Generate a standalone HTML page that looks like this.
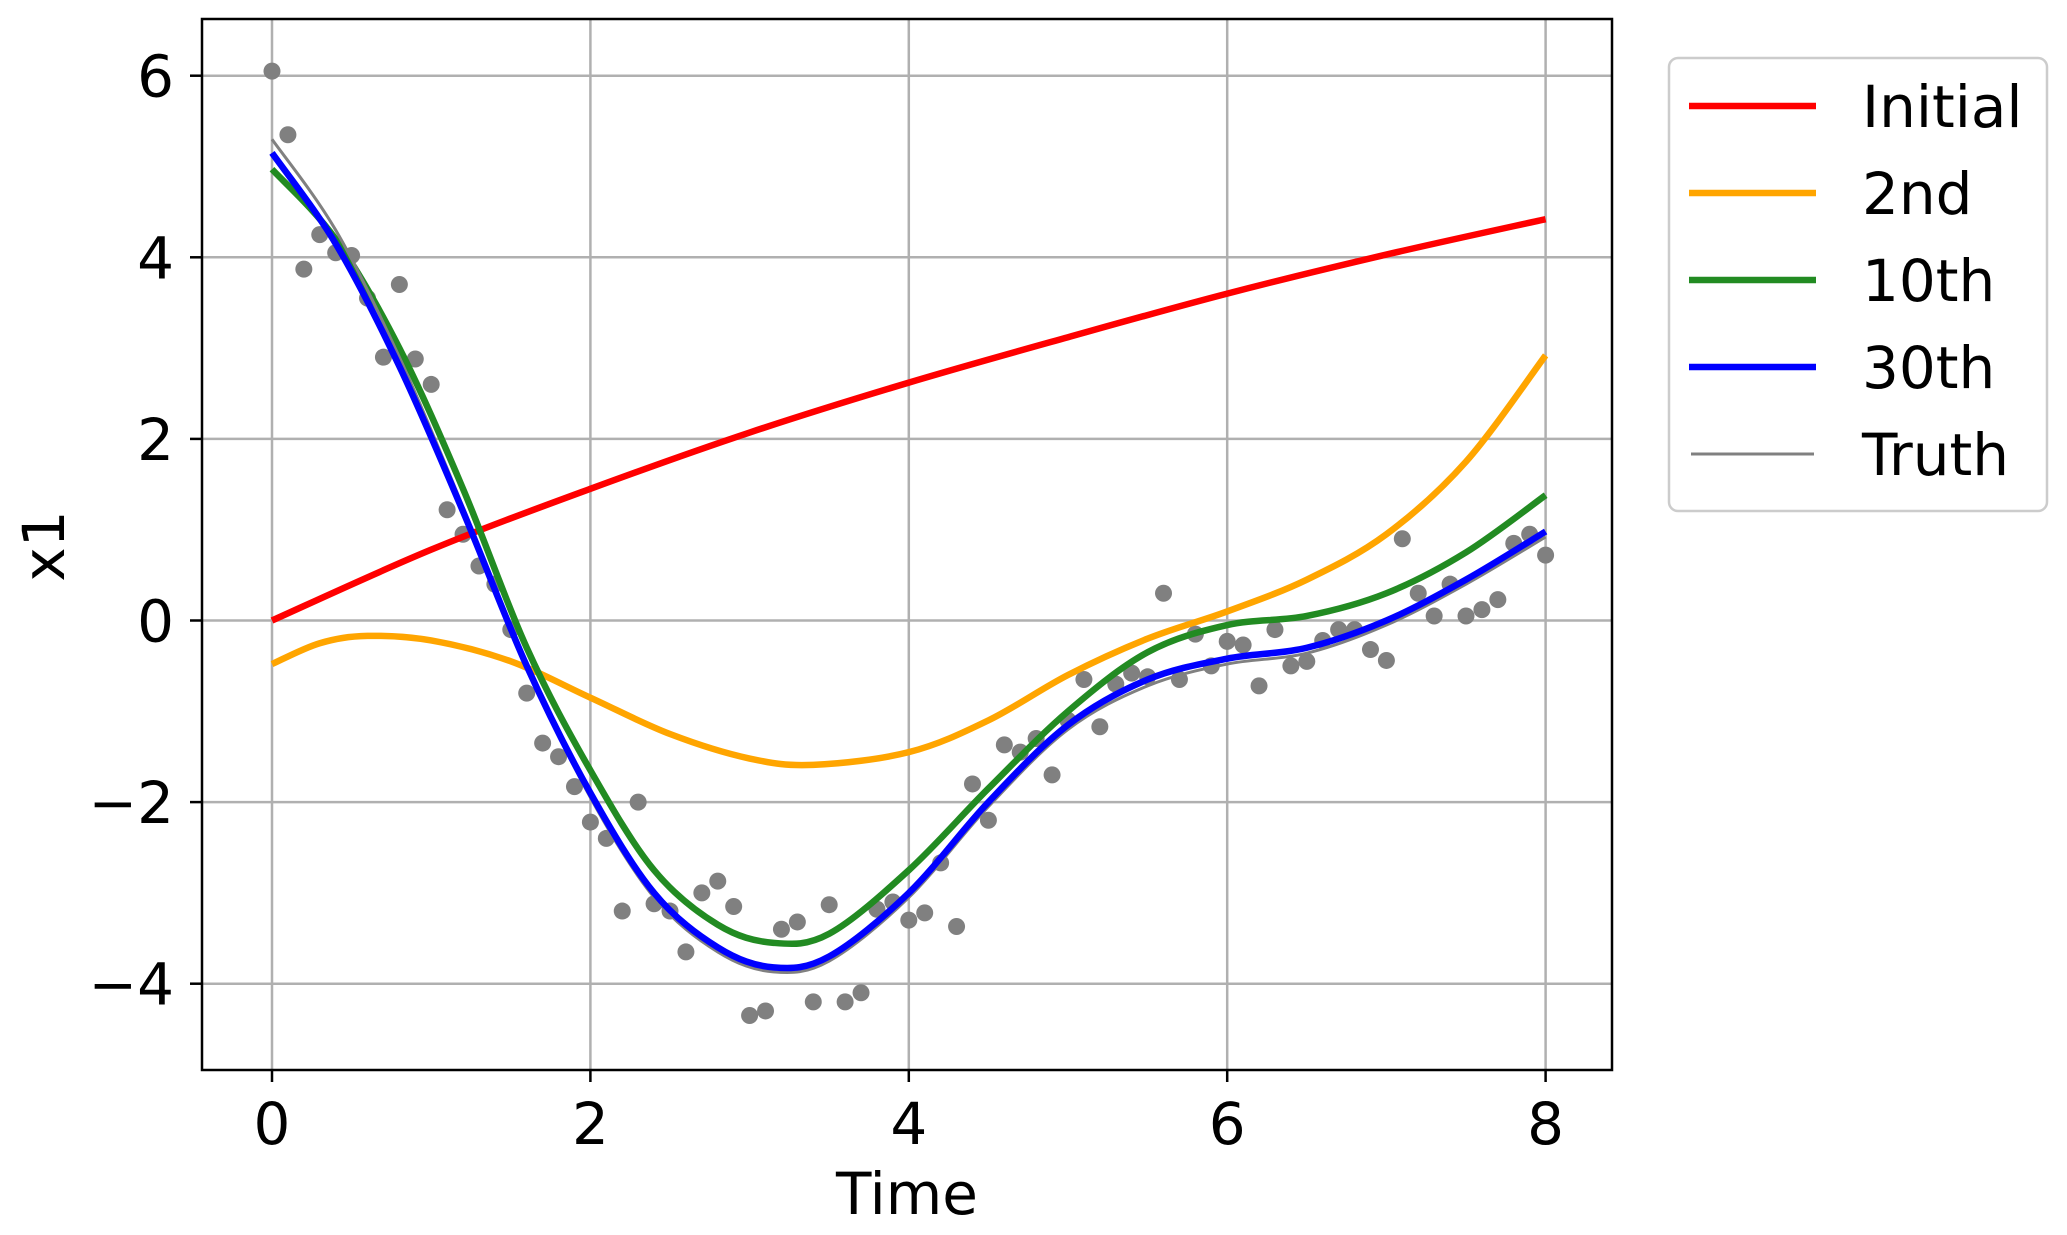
<!DOCTYPE html>
<html><head><meta charset="utf-8"><style>
html,body{margin:0;padding:0;background:#fff;}
svg{display:block;font-family:"DejaVu Sans","Liberation Sans",sans-serif;}
</style></head><body>
<svg id="s" width="2067" height="1235" viewBox="0 0 2067 1235" xmlns="http://www.w3.org/2000/svg">
<rect width="2067" height="1235" fill="#fff"/>
<g id="grid" stroke="#b0b0b0" stroke-width="2.5"></g>
<g id="data"></g>
<rect x="202" y="19" width="1410" height="1051" fill="none" stroke="#000" stroke-width="2.5"/>
<g id="ticks" stroke="#000" stroke-width="2.5"></g>
<g id="labels" font-size="58" fill="#000"></g>
<text x="907" y="1214" font-size="58" text-anchor="middle">Time</text>
<text transform="translate(64,546) rotate(-90)" font-size="58" text-anchor="middle">x1</text>
<rect x="1669" y="58" width="378" height="453" rx="9" fill="#fff" fill-opacity="0.8" stroke="#cccccc" stroke-width="2.5"/>
<g font-size="58">
<line x1="1689" y1="106" x2="1816" y2="106" stroke="#ff0000" stroke-width="6.5"/>
<text x="1862" y="127">Initial</text>
<line x1="1689" y1="193" x2="1816" y2="193" stroke="#ffa500" stroke-width="6.5"/>
<text x="1862" y="214">2nd</text>
<line x1="1689" y1="280" x2="1816" y2="280" stroke="#228b22" stroke-width="6.5"/>
<text x="1862" y="301">10th</text>
<line x1="1689" y1="367" x2="1816" y2="367" stroke="#0000ff" stroke-width="6.5"/>
<text x="1862" y="388">30th</text>
<line x1="1691" y1="454" x2="1814" y2="454" stroke="#808080" stroke-width="3"/>
<text x="1862" y="475">Truth</text>
</g>
</svg>
<script>
var NS="http://www.w3.org/2000/svg";
function X(t){return 272+159.2*t;}
function Y(v){return 620.5-90.8*v;}
function el(p,n,a){var e=document.createElementNS(NS,n);for(var k in a)e.setAttribute(k,a[k]);document.getElementById(p).appendChild(e);return e;}
[0,2,4,6,8].forEach(function(t){el("grid","line",{x1:X(t),x2:X(t),y1:19,y2:1070});el("ticks","line",{x1:X(t),x2:X(t),y1:1070,y2:1082});
var tx=el("labels","text",{x:X(t),y:1144,"text-anchor":"middle"});tx.textContent=t;});
[-4,-2,0,2,4,6].forEach(function(v){el("grid","line",{x1:202,x2:1612,y1:Y(v),y2:Y(v)});el("ticks","line",{x1:190,x2:202,y1:Y(v),y2:Y(v)});
var tx=el("labels","text",{x:174,y:Y(v)+21,"text-anchor":"end"});tx.textContent=(v<0?"\u2212"+(-v):v);});
var pts=[6.05,5.35,3.87,4.25,4.05,4.02,3.55,2.9,3.7,2.88,2.6,1.22,0.95,0.6,0.4,-0.1,-0.8,-1.35,-1.5,-1.83,-2.22,-2.4,-3.2,-2.0,-3.12,-3.2,-3.65,-3.0,-2.87,-3.15,-4.35,-4.3,-3.4,-3.32,-4.2,-3.13,-4.2,-4.1,-3.18,-3.1,-3.3,-3.22,-2.67,-3.37,-1.8,-2.2,-1.37,-1.45,-1.3,-1.7,-1.1,-0.65,-1.17,-0.7,-0.58,-0.62,0.3,-0.65,-0.15,-0.5,-0.23,-0.27,-0.72,-0.1,-0.5,-0.45,-0.22,-0.1,-0.1,-0.32,-0.44,0.9,0.3,0.05,0.4,0.05,0.12,0.23,0.85,0.95,0.72];
pts.forEach(function(v,i){el("data","circle",{cx:X(i*0.1),cy:Y(v),r:8.5,fill:"#808080"});});
function path(P){var p=P.map(function(a){return [X(a[0]),Y(a[1])];});var d="M"+p[0][0]+","+p[0][1];
for(var i=0;i<p.length-1;i++){var p0=p[i-1]||p[i],p1=p[i],p2=p[i+1],p3=p[i+2]||p[i+1];
d+=" C"+(p1[0]+(p2[0]-p0[0])/6)+","+(p1[1]+(p2[1]-p0[1])/6)+" "+(p2[0]-(p3[0]-p1[0])/6)+","+(p2[1]-(p3[1]-p1[1])/6)+" "+p2[0]+","+p2[1];}return d;}
function line(P,c,w){el("data","path",{d:path(P),fill:"none",stroke:c,"stroke-width":w,"stroke-linecap":"butt"});}
line([[0,0],[1,0.78],[2,1.45],[3,2.07],[4,2.62],[5,3.12],[6,3.6],[7,4.03],[8,4.42]],"#ff0000",6.5);
line([[0,-0.48],[0.3,-0.25],[0.6,-0.17],[1,-0.22],[1.5,-0.45],[2,-0.85],[2.5,-1.25],[3,-1.52],[3.4,-1.59],[4,-1.45],[4.5,-1.1],[5,-0.6],[5.5,-0.2],[6,0.1],[6.5,0.45],[7,0.95],[7.5,1.75],[8,2.92]],"#ffa500",6.5);
line([[0,4.97],[0.4,4.2],[0.8,3.0],[1.2,1.45],[1.6,-0.3],[2,-1.65],[2.4,-2.75],[2.8,-3.35],[3.15,-3.55],[3.5,-3.45],[4,-2.75],[4.5,-1.85],[5,-1.0],[5.5,-0.35],[6,-0.05],[6.5,0.05],[7,0.3],[7.5,0.75],[8,1.38]],"#228b22",6.5);
line([[0,5.3],[0.4,4.3],[0.8,2.9],[1.2,1.25],[1.6,-0.5],[2,-1.95],[2.4,-3.05],[2.8,-3.65],[3.15,-3.87],[3.5,-3.75],[4,-3.05],[4.5,-2.05],[5,-1.2],[5.5,-0.72],[6,-0.48],[6.5,-0.36],[7,-0.05],[7.5,0.4],[8,0.92]],"#808080",3);
line([[0,5.15],[0.4,4.15],[0.8,2.8],[1.2,1.2],[1.6,-0.5],[2,-1.9],[2.4,-3.0],[2.8,-3.6],[3.15,-3.82],[3.5,-3.7],[4,-3.0],[4.5,-2.0],[5,-1.15],[5.5,-0.65],[6,-0.42],[6.5,-0.3],[7,0.0],[7.5,0.45],[8,0.98]],"#0000ff",6.5);
</script>
</body></html>
